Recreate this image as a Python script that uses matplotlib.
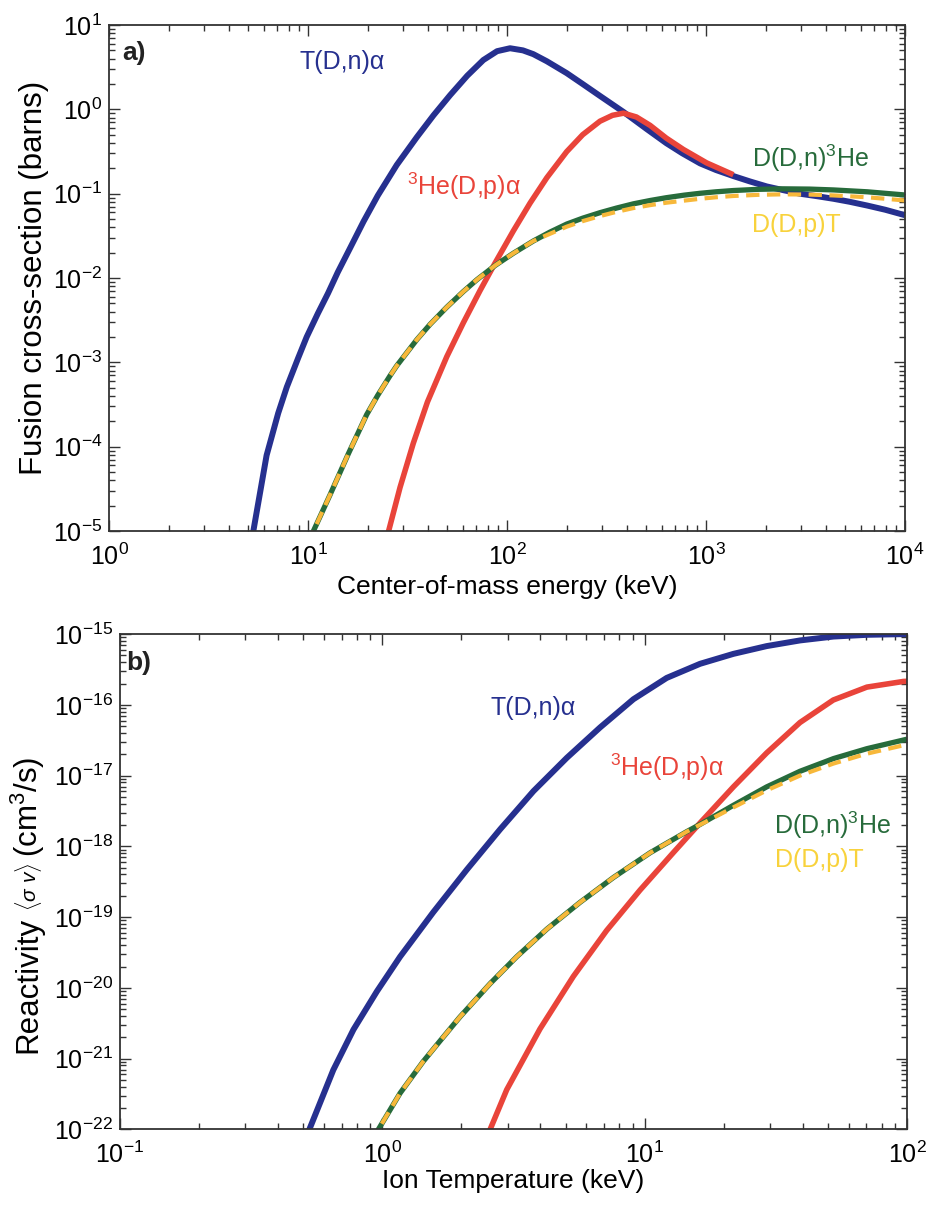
#! /usr/bin/env python

import numpy as np
import matplotlib
matplotlib.use('Agg')
import matplotlib.pyplot as plt
from matplotlib.ticker import LogLocator, NullFormatter

plt.rcParams['font.family'] = ['Liberation Sans', 'DejaVu Sans']
plt.rcParams['mathtext.fontset'] = 'custom'
plt.rcParams['mathtext.rm'] = 'Liberation Sans'
plt.rcParams['mathtext.it'] = 'Liberation Sans:italic'
plt.rcParams['mathtext.bf'] = 'Liberation Sans:bold'

# ---- a) fusion cross-sections vs centre-of-mass energy (keV, barns)
a_xticks = [1, 10, 100, 1000, 10000]
a_yticks = [1e-5, 1e-4, 1e-3, 1e-2, 1e-1, 1, 10]

dt_E = [5.01, 5.31, 6.19, 7.08, 7.82, 8.91, 9.84, 11.2, 12.6, 14.1, 16.3, 19.0, 22.4, 27.9,
        35.2, 42.7, 51.8, 63.1, 76.0, 89.1, 103.5, 120.2, 135.5, 158.5, 199.5, 239.9, 293,
        384.6, 501, 631, 759, 933, 1122, 1371, 1660, 2018, 2455, 2965, 3631, 4365, 5248,
        6457, 7943, 10000]
dt_sig = [4.0e-6, 1.0e-5, 7.9e-5, 2.5e-4, 5.1e-4, 1.12e-3, 2.0e-3, 3.8e-3, 6.6e-3, 1.17e-2,
          2.29e-2, 4.68e-2, 9.5e-2, 0.219, 0.468, 0.851, 1.48, 2.51, 3.85, 4.90, 5.31, 5.01,
          4.52, 3.72, 2.69, 2.0, 1.445, 0.933, 0.589, 0.398, 0.302, 0.229, 0.191, 0.162,
          0.140, 0.122, 0.110, 0.100, 0.0933, 0.0871, 0.0804, 0.0724, 0.0646, 0.0556]

dhe3_E = [24.5, 25.4, 29.0, 33.8, 39.8, 49.8, 60.3, 73.1, 87.1, 107.6, 130.6, 158.5, 199.5,
          239.9, 293, 338.8, 384.6, 446.7, 523.6, 631, 769, 1007, 1371]
dhe3_sig = [5.6e-6, 1.0e-5, 3.3e-5, 1.1e-4, 3.39e-4, 1.17e-3, 2.95e-3, 7.08e-3, 1.51e-2,
            3.63e-2, 7.76e-2, 0.155, 0.316, 0.501, 0.724, 0.851, 0.902, 0.813, 0.646, 0.457,
            0.335, 0.232, 0.168]

ddn_E = [10.0, 10.64, 12.9, 15.96, 19.7, 22.4, 25.8, 27.9, 35.2, 41.0, 49.8, 60.3, 70.5, 87.1,
         107.6, 135.5, 164.4, 199.5, 239.9, 293, 354.8, 431.5, 524.8, 631, 776, 933, 1122,
         1371, 1820, 2443, 3311, 4365, 6457, 10000]
ddn_sig = [7.2e-6, 1.0e-5, 2.69e-5, 8.3e-5, 2.4e-4, 4.07e-4, 6.92e-4, 9.12e-4, 1.86e-3,
           2.82e-3, 4.52e-3, 6.92e-3, 9.55e-3, 1.41e-2, 1.97e-2, 2.75e-2, 3.51e-2, 4.37e-2,
           5.13e-2, 5.96e-2, 6.76e-2, 7.59e-2, 8.32e-2, 8.97e-2, 9.62e-2, 0.1012, 0.1054,
           0.1091, 0.1127, 0.1143, 0.1135, 0.1109, 0.1054, 0.0966]

ddp_E = [10.0, 10.64, 12.9, 15.96, 19.7, 22.4, 25.8, 27.9, 35.2, 41.0, 49.8, 60.3, 70.5, 87.1,
         107.6, 135.5, 164.4, 199.5, 239.9, 293, 354.8, 431.5, 524.8, 631, 776, 933, 1122,
         1371, 1820, 2443, 3311, 4365, 6457, 10000]
ddp_sig = [7.2e-6, 1.0e-5, 2.69e-5, 8.3e-5, 2.4e-4, 4.07e-4, 6.92e-4, 9.12e-4, 1.86e-3,
           2.82e-3, 4.52e-3, 6.92e-3, 9.55e-3, 1.41e-2, 1.97e-2, 2.75e-2, 3.35e-2, 4.07e-2,
           4.73e-2, 5.43e-2, 6.10e-2, 6.76e-2, 7.33e-2, 7.82e-2, 8.28e-2, 8.71e-2, 9.08e-2,
           9.40e-2, 9.70e-2, 9.84e-2, 9.77e-2, 9.55e-2, 9.08e-2, 8.32e-2]

# ---- b) reactivity vs ion temperature (keV, cm^3/s)
b_xticks = [0.1, 1, 10, 100]
b_yticks = [1e-22, 1e-21, 1e-20, 1e-19, 1e-18, 1e-17, 1e-16, 1e-15]

dt_T = [0.501, 0.527, 0.650, 0.776, 0.953, 1.168, 1.563, 2.099, 2.812, 3.767, 5.047, 6.761,
        9.057, 12.13, 16.26, 21.78, 29.17, 39.08, 52.48, 70.79, 100]
dt_sv = [6.3e-23, 1e-22, 6.9e-22, 2.57e-21, 8.9e-21, 2.75e-20, 1.17e-19, 4.68e-19, 1.74e-18,
         6.03e-18, 1.78e-17, 4.79e-17, 1.20e-16, 2.40e-16, 3.80e-16, 5.25e-16, 6.76e-16,
         8.13e-16, 9.23e-16, 9.77e-16, 1.0e-15]

dhe3_T = [2.455, 2.576, 2.979, 3.990, 5.346, 7.161, 9.594, 12.85, 16.26, 21.78, 29.17, 39.08,
          52.36, 70.31, 96.83, 100]
dhe3_sv = [6.3e-23, 1e-22, 3.63e-22, 2.63e-21, 1.45e-20, 6.46e-20, 2.40e-19, 8.13e-19,
           2.14e-18, 6.92e-18, 2.09e-17, 5.62e-17, 1.17e-16, 1.78e-16, 2.14e-16, 2.15e-16]

ddn_T = [0.912, 0.966, 1.168, 1.432, 1.660, 1.977, 2.576, 3.251, 4.236, 5.675, 7.603, 10.50,
         14.49, 16.26, 21.78, 29.17, 39.08, 52.48, 70.31, 100]
ddn_sv = [6.6e-23, 1e-22, 3.24e-22, 9.12e-22, 1.78e-21, 3.89e-21, 1.15e-20, 2.75e-20,
          6.76e-20, 1.62e-19, 3.63e-19, 8.13e-19, 1.62e-18, 2.04e-18, 3.80e-18, 6.92e-18,
          1.15e-17, 1.74e-17, 2.40e-17, 3.27e-17]

ddp_T = [0.912, 0.966, 1.168, 1.432, 1.660, 1.977, 2.576, 3.251, 4.236, 5.675, 7.603, 10.50,
         14.49, 16.26, 21.78, 29.17, 39.08, 52.48, 70.31, 100]
ddp_sv = [6.6e-23, 1e-22, 3.24e-22, 9.12e-22, 1.78e-21, 3.89e-21, 1.15e-20, 2.75e-20,
          6.76e-20, 1.62e-19, 3.63e-19, 8.13e-19, 1.62e-18, 2.02e-18, 3.55e-18, 6.17e-18,
          1.0e-17, 1.48e-17, 2.04e-17, 2.75e-17]

c_blue = '#26308f'
c_red = '#e9443a'
c_green = '#276b3b'
c_yellow = '#f7b83a'
c_yellow_txt = '#f8d23c'
c_axis = '#333333'


def style_axes(ax, xticks, yticks):
    ax.set_xscale('log')
    ax.set_yscale('log')
    for s in ax.spines.values():
        s.set_color(c_axis)
        s.set_linewidth(1.3)
    ax.set_xticks(xticks)
    ax.set_yticks(yticks)
    ax.xaxis.set_minor_locator(LogLocator(base=10, subs=np.arange(2, 10), numticks=20))
    ax.yaxis.set_minor_locator(LogLocator(base=10, subs=np.arange(2, 10), numticks=20))
    ax.xaxis.set_minor_formatter(NullFormatter())
    ax.yaxis.set_minor_formatter(NullFormatter())
    ax.tick_params(which='both', direction='in', top=True, right=True,
                   color=c_axis, width=1.0)
    ax.tick_params(which='major', length=8, labelsize=18)
    ax.tick_params(axis='y', which='major', pad=5)
    ax.tick_params(axis='x', which='major', pad=9)
    ax.tick_params(which='minor', length=4.5)


def draw_curves(ax, blue, red, green, yellow):
    ax.plot(*blue, color=c_blue, lw=4.3, solid_capstyle='butt')
    ax.plot(*red, color=c_red, lw=4.0, solid_capstyle='butt')
    ax.plot(*green, color=c_green, lw=3.8, solid_capstyle='butt')
    ax.plot(*yellow, color=c_yellow, lw=3.0, linestyle=(0, (3.2, 1.8)))


def vertical_label(fig, x_px, y_center_px, parts, gap_px=6):
    # rotated label built from pieces of different size, centred on y_center_px
    W = fig.get_figwidth() * fig.dpi
    H = fig.get_figheight() * fig.dpi
    renderer = fig.canvas.get_renderer()
    texts = [fig.text(0, 0, s, fontsize=size, rotation=90, rotation_mode='anchor',
                      ha='left', va='center') for s, size in parts]
    lengths = [t.get_window_extent(renderer).height for t in texts]
    total = sum(lengths) + gap_px * (len(texts) - 1)
    y = (H - y_center_px) - total / 2
    for t, L in zip(texts, lengths):
        t.set_position((x_px / W, y / H))
        y += L + gap_px


fig = plt.figure(figsize=(9.32, 12.05), dpi=100)

# Panel a)
ax1 = fig.add_axes([0.1170, 0.5593, 0.8541, 0.4199])
draw_curves(ax1, (dt_E, dt_sig), (dhe3_E, dhe3_sig), (ddn_E, ddn_sig), (ddp_E, ddp_sig))
style_axes(ax1, a_xticks, a_yticks)
ax1.set_xlim(1, 1e4)
ax1.set_ylim(1e-5, 10)
ax1.set_xlabel('Center-of-mass energy (keV)', fontsize=19, va='center')
ax1.set_ylabel('Fusion cross-section (barns)', fontsize=22.5, va='center')
ax1.xaxis.set_label_coords(0.5, -0.111)
ax1.yaxis.set_label_coords(-0.094, 0.5)
ax1.text(0.016, 0.944, 'a)', transform=ax1.transAxes, fontsize=19, fontweight='bold',
         va='center', ha='left', color='#222222')
ax1.text(9.1, 3.6, 'T(D,n)α', color=c_blue, fontsize=18, va='center', ha='left')
ax1.text(31.3, 0.121, r'$^{3}$He(D,p)α', color=c_red, fontsize=18, va='center', ha='left')
ax1.text(1700, 0.262, r'D(D,n)$^{3}$He', color=c_green, fontsize=18, va='center', ha='left')
ax1.text(1700, 0.0425, 'D(D,p)T', color=c_yellow_txt, fontsize=18, va='center', ha='left')

# Panel b)
ax2 = fig.add_axes([0.1288, 0.0628, 0.8444, 0.4110])
draw_curves(ax2, (dt_T, dt_sv), (dhe3_T, dhe3_sv), (ddn_T, ddn_sv), (ddp_T, ddp_sv))
style_axes(ax2, b_xticks, b_yticks)
ax2.set_xlim(0.1, 100)
ax2.set_ylim(1e-22, 1e-15)
ax2.set_xlabel('Ion Temperature (keV)', fontsize=19, va='center')
ax2.xaxis.set_label_coords(0.5, -0.104)
ax2.text(0.0085, 0.941, 'b)', transform=ax2.transAxes, fontsize=19, fontweight='bold',
         va='center', ha='left', color='#222222')
ax2.text(2.58, 10**-16.05, 'T(D,n)α', color=c_blue, fontsize=18, va='center', ha='left')
ax2.text(7.38, 10**-16.89, r'$^{3}$He(D,p)α', color=c_red, fontsize=18, va='center', ha='left')
ax2.text(31, 10**-17.70, r'D(D,n)$^{3}$He', color=c_green, fontsize=18, va='center', ha='left')
ax2.text(31.5, 10**-18.2, 'D(D,p)T', color=c_yellow_txt, fontsize=18, va='center', ha='left')

vertical_label(fig, 28, 905, [('Reactivity', 22.5),
                              (r'$\langle\sigma\ v\rangle$', 15),
                              (r'(cm$^{3}$/s)', 22.5)])

fig.savefig('out.png', dpi=100)
